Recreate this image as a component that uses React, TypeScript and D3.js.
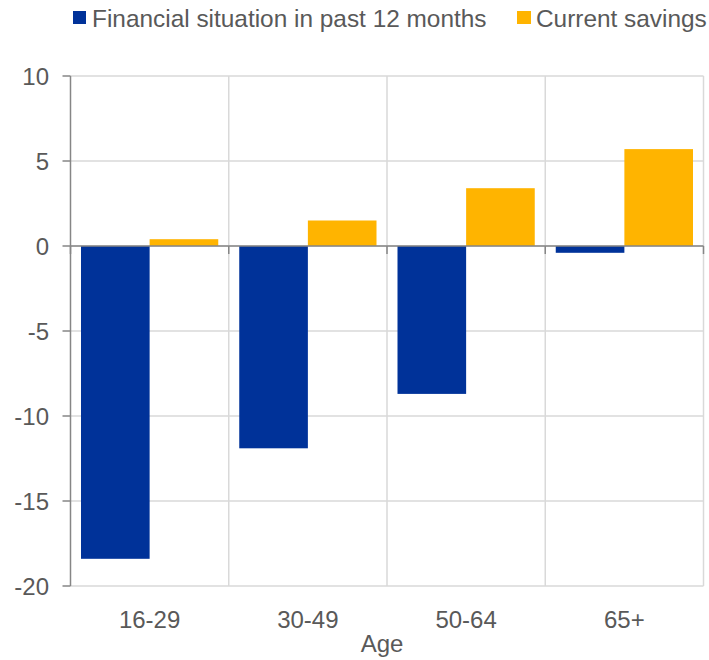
import React from "react";
import * as d3 from "d3";

const categories = ["16-29", "30-49", "50-64", "65+"];
const seriesNames = ["Financial situation in past 12 months", "Current savings"];
const financial = [-18.4, -11.9, -8.7, -0.4];
const savings = [0.4, 1.5, 3.4, 5.7];
const yTicks = [10, 5, 0, -5, -10, -15, -20];
const colors = ["#003299", "#FFB400"];

export default function App() {
  const W = 709, H = 660;
  const m = { left: 70.5, right: 5.5, top: 76, bottom: 74 };
  const x = d3.scaleBand().domain(categories).range([m.left, W - m.right]).paddingInner(0).paddingOuter(0);
  const xs = d3.scaleBand().domain(["0", "1"]).range([0, x.bandwidth()]).paddingOuter(0.153).paddingInner(0);
  const y = d3.scaleLinear().domain([-20, 10]).range([H - m.bottom, m.top]);
  const series = [financial, savings];
  const font = "Liberation Sans, Arial, sans-serif";
  const textColor = "#595959";
  const axisColor = "#868686";
  const gridColor = "#d9d9d9";
  return (
    <svg width={W} height={H} style={{ position: "absolute", left: 0, top: 0 }} fontFamily={font}>
      {yTicks.map((t) => (
        <line key={"gy" + t} x1={m.left} x2={W - m.right} y1={y(t)} y2={y(t)} stroke={gridColor} strokeWidth={1.5} />
      ))}
      {categories.map((c) => (
        <line key={"gx" + c} x1={x(c)! + x.bandwidth()} x2={x(c)! + x.bandwidth()} y1={m.top} y2={H - m.bottom} stroke={gridColor} strokeWidth={1.5} />
      ))}
      {categories.map((c, i) =>
        series.map((s, j) => {
          const v = s[i];
          const bx = x(c)! + xs(String(j))!;
          return (
            <rect key={c + j} x={bx} width={xs.bandwidth()} y={y(Math.max(0, v))} height={Math.abs(y(v) - y(0))} fill={colors[j]} />
          );
        })
      )}
      <line x1={m.left} x2={m.left} y1={m.top} y2={H - m.bottom} stroke={axisColor} strokeWidth={1.5} />
      {yTicks.map((t) => (
        <g key={"yt" + t}>
          <line x1={m.left - 8} x2={m.left} y1={y(t)} y2={y(t)} stroke={axisColor} strokeWidth={1.5} />
          <text x={49} y={y(t)} dy="0.36em" textAnchor="end" fontSize={24} fill={textColor}>{t}</text>
        </g>
      ))}
      <line x1={m.left} x2={W - m.right} y1={y(0)} y2={y(0)} stroke={axisColor} strokeWidth={1.5} />
      {[m.left, ...categories.map((c) => x(c)! + x.bandwidth())].map((px, i) => (
        <line key={"xt" + i} x1={px} x2={px} y1={y(0)} y2={y(0) + 8} stroke={axisColor} strokeWidth={1.5} />
      ))}
      {categories.map((c) => (
        <text key={"xl" + c} x={x(c)! + x.bandwidth() / 2} y={628} textAnchor="middle" fontSize={24} fill={textColor}>{c}</text>
      ))}
      <text x={382} y={652} textAnchor="middle" fontSize={24} fill={textColor}>Age</text>
      <rect x={73} y={11} width={13} height={13} fill={colors[0]} />
      <text x={92} y={27} fontSize={24.4} fill={textColor}>{seriesNames[0]}</text>
      <rect x={517} y={11} width={14} height={13} fill={colors[1]} />
      <text x={536} y={27} fontSize={24.4} fill={textColor}>{seriesNames[1]}</text>
    </svg>
  );
}
